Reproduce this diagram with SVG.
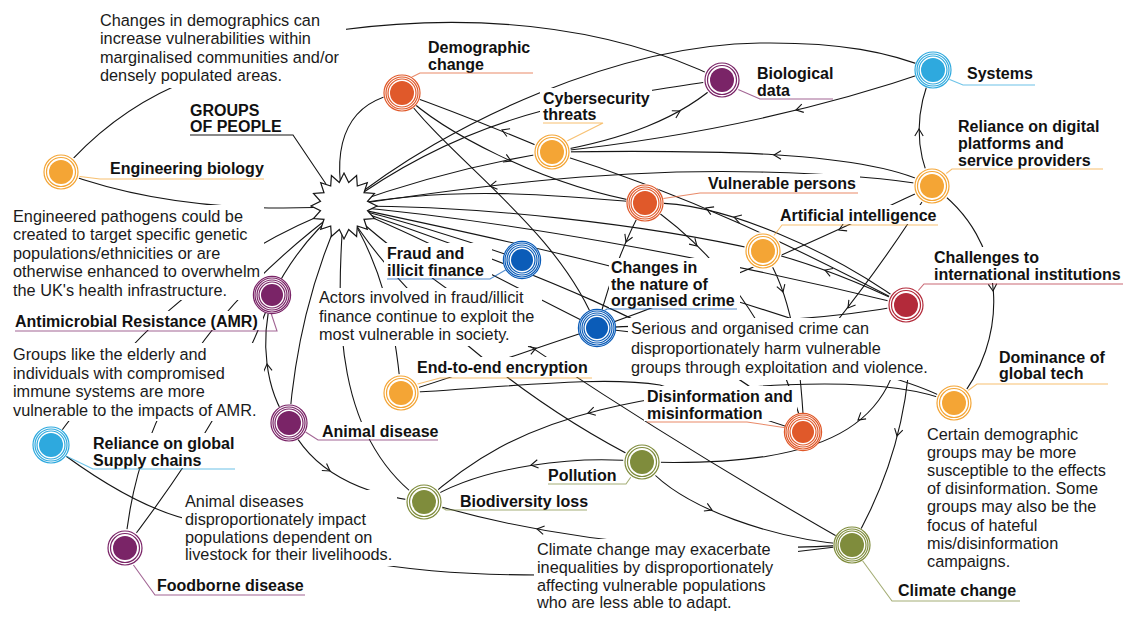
<svg xmlns="http://www.w3.org/2000/svg" xmlns:xlink="http://www.w3.org/1999/xlink" width="1141" height="632" viewBox="0 0 1141 632">
<style>
.cn path{fill:none;stroke:#151515;stroke-width:1.1}
.ah{fill:none;stroke:#151515;stroke-width:1.1}
.bg{fill:#fff}
.tx{font-family:"Liberation Sans",Arial,Helvetica,sans-serif;font-size:16.3px;fill:#1a1a1a}
.lb{font-family:"Liberation Sans",Arial,Helvetica,sans-serif;font-size:16px;font-weight:bold;fill:#111}
.halo{fill:#fff}
.dot{fill:currentColor}
.ring{fill:none;stroke:currentColor;stroke-width:1.2}
.ul{fill:none;stroke:currentColor;stroke-width:1.1;stroke-opacity:.7}
.or{color:#F4A535}
.ro{color:#E0592A}
.pu{color:#7A2467}
.lbl{color:#2EA9DE}
.db{color:#0B5CB8}
.rd{color:#B32A3A}
.ol{color:#7F8C3C}
</style>
<defs>
<path id="ah" class="ah" d="M-7,-4.2 L0,0 L-7,4.2"/>
</defs>
<rect width="1141" height="632" fill="#fff"/>

<g id="connectors" class="cn">
<path d="M61,172 C150,205 250,212 344,206"/>
<path d="M61,172 Q110,115 175,86 L340,30 C460,14 600,20 722,80"/>
<path d="M344,206 C330,140 350,100 402,93"/>
<path d="M344,206 C420,150 500,118 580,102 C640,92 690,84 722,80"/>
<path d="M344,206 C450,120 620,45 760,43 C840,42 890,52 933,70"/>
<path d="M933,70 Q760,130 552,152"/>
<path d="M932,186 C870,150 700,150 552,152"/>
<path d="M344,206 C450,190 600,168 760,172 C840,174 900,180 932,186"/>
<path d="M344,206 Q450,168 552,152"/>
<path d="M552,152 C620,140 680,120 722,80"/>
<path d="M552,152 C500,130 450,110 402,93"/>
<path d="M402,93 C440,130 540,185 645,203"/>
<path d="M402,93 C450,160 560,230 597,328"/>
<path d="M344,206 C450,185 560,195 645,203"/>
<path d="M344,206 C480,205 650,225 763,251"/>
<path d="M344,206 C500,220 700,255 906,305"/>
<path d="M906,305 C800,250 690,195 552,152"/>
<path d="M906,305 C830,250 720,200 645,203"/>
<path d="M645,203 C630,230 612,270 597,328"/>
<path d="M645,203 C700,240 770,310 804,431"/>
<path d="M763,251 C790,290 800,350 804,431"/>
<path d="M344,206 C500,260 700,330 804,431"/>
<path d="M932,186 C880,210 760,270 597,328"/>
<path d="M932,186 C905,230 870,280 830,330"/>
<path d="M906,305 Q830,268 763,251"/>
<path d="M906,305 C800,325 700,322 597,328"/>
<path d="M903,305 C905,420 840,468 643,462"/>
<path d="M910,305 C915,400 890,480 852,545"/>
<path d="M932,186 C1010,240 1010,340 955,405"/>
<path d="M932,186 C915,150 915,110 933,70"/>
<path d="M643,462 C680,510 780,540 852,545"/>
<path d="M344,206 C420,280 650,430 852,545"/>
<path d="M344,206 C400,300 520,400 643,462"/>
<path d="M344,206 C380,260 395,320 401,393"/>
<path d="M344,206 C335,320 335,440 424,502"/>
<path d="M344,206 C310,280 295,350 289,423"/>
<path d="M344,206 Q300,240 272,296"/>
<path d="M51,445 C120,350 200,260 344,206"/>
<path d="M125,548 C135,430 190,320 344,206"/>
<path d="M125,548 C200,450 240,380 272,296"/>
<path d="M289,423 C265,390 260,340 272,296"/>
<path d="M289,423 C310,470 360,495 424,502"/>
<path d="M51,445 C110,490 160,515 200,522 L365,562 C420,572 480,575 540,575 L785,553 L852,545"/>
<path d="M852,545 C780,548 620,560 424,502"/>
<path d="M643,462 C580,455 480,465 424,502"/>
<path d="M954,403 C880,370 700,385 600,410 C520,430 470,460 424,502"/>
<path d="M401,393 C460,375 530,350 597,328"/>
<path d="M401,393 C500,388 600,375 660,385 L803,432"/>
<path d="M344,206 C420,225 480,245 522,260"/>
<path d="M344,206 C430,240 520,290 597,328"/>
<path d="M344,206 C480,235 650,270 810,325"/>
<path d="M597,328 C700,340 880,360 954,403"/>
<use xlink:href="#ah" href="#ah" transform="translate(796,110) rotate(166)"/>
<use xlink:href="#ah" href="#ah" transform="translate(774,155) rotate(180)"/>
<use xlink:href="#ah" href="#ah" transform="translate(490,186) rotate(172)"/>
<use xlink:href="#ah" href="#ah" transform="translate(680,111) rotate(-29)"/>
<use xlink:href="#ah" href="#ah" transform="translate(502,130) rotate(202)"/>
<use xlink:href="#ah" href="#ah" transform="translate(511,161) rotate(24)"/>
<use xlink:href="#ah" href="#ah" transform="translate(706,208) rotate(203)"/>
<use xlink:href="#ah" href="#ah" transform="translate(734,217) rotate(197)"/>
<use xlink:href="#ah" href="#ah" transform="translate(626,242) rotate(113)"/>
<use xlink:href="#ah" href="#ah" transform="translate(697,246) rotate(44)"/>
<use xlink:href="#ah" href="#ah" transform="translate(783,292) rotate(72)"/>
<use xlink:href="#ah" href="#ah" transform="translate(839,230) rotate(155)"/>
<use xlink:href="#ah" href="#ah" transform="translate(848,308) rotate(127)"/>
<use xlink:href="#ah" href="#ah" transform="translate(825,270) rotate(200)"/>
<use xlink:href="#ah" href="#ah" transform="translate(858,420) rotate(141)"/>
<use xlink:href="#ah" href="#ah" transform="translate(897,436) rotate(104)"/>
<use xlink:href="#ah" href="#ah" transform="translate(993,291) rotate(86)"/>
<use xlink:href="#ah" href="#ah" transform="translate(919,129) rotate(-90)"/>
<use xlink:href="#ah" href="#ah" transform="translate(712,510) rotate(24)"/>
<use xlink:href="#ah" href="#ah" transform="translate(537,529) rotate(190)"/>
<use xlink:href="#ah" href="#ah" transform="translate(531,465) rotate(171)"/>
<use xlink:href="#ah" href="#ah" transform="translate(588,413) rotate(165)"/>
<use xlink:href="#ah" href="#ah" transform="translate(536,348) rotate(-20)"/>
<use xlink:href="#ah" href="#ah" transform="translate(267,364) rotate(-97)"/>
<use xlink:href="#ah" href="#ah" transform="translate(330,471) rotate(34)"/>
</g>

<g id="note-demographics">
<rect class="bg" x="96" y="9" width="250" height="79"/>
<text class="tx"><tspan x="100" y="26">Changes in demographics can</tspan><tspan x="100" y="44.4">increase vulnerabilities within</tspan><tspan x="100" y="62.8">marginalised communities and/or</tspan><tspan x="100" y="81.2">densely populated areas.</tspan></text>
</g>
<g id="note-pathogens">
<rect class="bg" x="10" y="205" width="254" height="95"/>
<text class="tx"><tspan x="13" y="222">Engineered pathogens could be</tspan><tspan x="13" y="240.4">created to target specific genetic</tspan><tspan x="13" y="258.8">populations/ethnicities or are</tspan><tspan x="13" y="277.2">otherwise enhanced to overwhelm</tspan><tspan x="13" y="295.6">the UK's health infrastructure.</tspan></text>
</g>
<g id="note-amr">
<rect class="bg" x="10" y="343" width="254" height="78"/>
<text class="tx"><tspan x="13" y="360">Groups like the elderly and</tspan><tspan x="13" y="378.6">individuals with compromised</tspan><tspan x="13" y="397.2">immune systems are more</tspan><tspan x="13" y="415.8">vulnerable to the impacts of AMR.</tspan></text>
</g>
<g id="note-fraud">
<rect class="bg" x="316" y="288" width="226" height="58"/>
<text class="tx"><tspan x="319" y="303">Actors involved in fraud/illicit</tspan><tspan x="319" y="321.5">finance continue to exploit the</tspan><tspan x="319" y="340">most vulnerable in society.</tspan></text>
</g>
<g id="note-crime">
<rect class="bg" x="628" y="318" width="310" height="62"/>
<text class="tx"><tspan x="631" y="334">Serious and organised crime can</tspan><tspan x="631" y="353.5">disproportionately harm vulnerable</tspan><tspan x="631" y="373">groups through exploitation and violence.</tspan></text>
</g>
<g id="note-disinfo">
<rect class="bg" x="924" y="424" width="164" height="150"/>
<text class="tx"><tspan x="927" y="440">Certain demographic</tspan><tspan x="927" y="458.1">groups may be more</tspan><tspan x="927" y="476.2">susceptible to the effects</tspan><tspan x="927" y="494.3">of disinformation. Some</tspan><tspan x="927" y="512.4">groups may also be the</tspan><tspan x="927" y="530.5">focus of hateful</tspan><tspan x="927" y="548.6">mis/disinformation</tspan><tspan x="927" y="566.7">campaigns.</tspan></text>
</g>
<g id="note-animal">
<rect class="bg" x="182" y="490" width="215" height="76"/>
<text class="tx"><tspan x="185" y="507">Animal diseases</tspan><tspan x="185" y="524.8">disproportionately impact</tspan><tspan x="185" y="542.6">populations dependent on</tspan><tspan x="185" y="560.4">livestock for their livelihoods.</tspan></text>
</g>
<g id="note-climate">
<rect class="bg" x="534" y="539" width="264" height="75"/>
<text class="tx"><tspan x="537" y="555">Climate change may exacerbate</tspan><tspan x="537" y="572.8">inequalities by disproportionately</tspan><tspan x="537" y="590.6">affecting vulnerable populations</tspan><tspan x="537" y="608.4">who are less able to adapt.</tspan></text>
</g>

<g id="groups-of-people">
<polygon points="344,173 348.7,182.5 356.6,175.5 357.3,186 367.3,182.7 364,192.7 374.5,193.4 367.5,201.3 377,206 367.5,210.7 374.5,218.6 364,219.3 367.3,229.3 357.3,226 356.6,236.5 348.7,229.5 344,239 339.3,229.5 331.4,236.5 330.7,226 320.7,229.3 324,219.3 313.5,218.6 320.5,210.7 311,206 320.5,201.3 313.5,193.4 324,192.7 320.7,182.7 330.7,186 331.4,175.5 339.3,182.5" fill="#fff" stroke="#151515" stroke-width="1.2"/>
<rect class="bg" x="188" y="100" width="103" height="34"/>
<text class="lb"><tspan x="190" y="116">GROUPS</tspan><tspan x="190" y="132">OF PEOPLE</tspan></text>
<polyline points="190,135 293,135 326,184" fill="none" stroke="#151515" stroke-width="1.1"/>
</g>

<g id="n-engineering-biology" class="or">
<rect class="bg" x="108" y="158" width="158" height="19"/>
<text class="lb" x="110" y="174">Engineering biology</text>
<polyline class="ul" points="76,176 100,179 264,179"/>
<circle class="halo" cx="61" cy="172" r="19"/><circle class="dot" cx="61" cy="172" r="12"/><circle class="ring" cx="61" cy="172" r="14.5"/><circle class="ring" cx="61" cy="172" r="17"/>
</g>
<g id="n-demographic-change" class="ro">
<rect class="bg" x="425" y="38" width="106" height="35"/>
<text class="lb"><tspan x="428" y="53">Demographic</tspan><tspan x="428" y="70">change</tspan></text>
<polyline class="ul" points="410,78 420,73 533,73"/>
<circle class="halo" cx="402" cy="93" r="19"/><circle class="dot" cx="402" cy="93" r="12"/><circle class="ring" cx="402" cy="93" r="14"/><circle class="ring" cx="402" cy="93" r="16"/><circle class="ring" cx="402" cy="93" r="18"/>
</g>
<g id="n-cybersecurity" class="or">
<rect class="bg" x="540" y="88" width="112" height="34"/>
<text class="lb"><tspan x="543" y="104">Cybersecurity</tspan><tspan x="543" y="120">threats</tspan></text>
<polyline class="ul" points="543,123 603,123 565,142"/>
<circle class="halo" cx="552" cy="152" r="19"/><circle class="dot" cx="552" cy="152" r="12"/><circle class="ring" cx="552" cy="152" r="14.5"/><circle class="ring" cx="552" cy="152" r="17"/>
</g>
<g id="n-biological-data" class="pu">
<rect class="bg" x="755" y="62" width="80" height="36"/>
<text class="lb"><tspan x="757" y="79">Biological</tspan><tspan x="757" y="96">data</tspan></text>
<polyline class="ul" points="737,89 760,99 833,99"/>
<circle class="halo" cx="722" cy="80" r="19"/><circle class="dot" cx="722" cy="80" r="12"/><circle class="ring" cx="722" cy="80" r="14.5"/><circle class="ring" cx="722" cy="80" r="17"/>
</g>
<g id="n-systems" class="lbl">
<rect class="bg" x="964" y="62" width="72" height="22"/>
<text class="lb" x="967" y="79">Systems</text>
<polyline class="ul" points="946,78 963,85 1035,85"/>
<circle class="halo" cx="933" cy="70" r="19"/><circle class="dot" cx="933" cy="70" r="12"/><circle class="ring" cx="933" cy="70" r="14"/><circle class="ring" cx="933" cy="70" r="16"/><circle class="ring" cx="933" cy="70" r="18"/>
</g>
<g id="n-digital-platforms" class="or">
<rect class="bg" x="955" y="116" width="150" height="52"/>
<text class="lb"><tspan x="958" y="132">Reliance on digital</tspan><tspan x="958" y="149">platforms and</tspan><tspan x="958" y="166">service providers</tspan></text>
<polyline class="ul" points="943,176 952,169 1103,169"/>
<circle class="halo" cx="932" cy="186" r="19"/><circle class="dot" cx="932" cy="186" r="12"/><circle class="ring" cx="932" cy="186" r="14.5"/><circle class="ring" cx="932" cy="186" r="17"/>
</g>
<g id="n-vulnerable-persons" class="ro">
<rect class="bg" x="706" y="174" width="154" height="18"/>
<text class="lb" x="708" y="189">Vulnerable persons</text>
<polyline class="ul" points="660,199 700,193 858,193"/>
<circle class="halo" cx="645" cy="203" r="19"/><circle class="dot" cx="645" cy="203" r="12"/><circle class="ring" cx="645" cy="203" r="14"/><circle class="ring" cx="645" cy="203" r="16"/><circle class="ring" cx="645" cy="203" r="18"/>
</g>
<g id="n-ai" class="or">
<rect class="bg" x="778" y="205" width="162" height="19"/>
<text class="lb" x="780" y="221">Artificial intelligence</text>
<polyline class="ul" points="772,238 782,225 938,225"/>
<circle class="halo" cx="763" cy="251" r="19"/><circle class="dot" cx="763" cy="251" r="12"/><circle class="ring" cx="763" cy="251" r="14.5"/><circle class="ring" cx="763" cy="251" r="17"/>
</g>
<g id="n-organised-crime" class="db">
<rect class="bg" x="609" y="258" width="131" height="50"/>
<text class="lb"><tspan x="611" y="273">Changes in</tspan><tspan x="611" y="290">the nature of</tspan><tspan x="611" y="306">organised crime</tspan></text>
<polyline class="ul" points="602,312 607,309 737,309"/>
<circle class="halo" cx="597" cy="328" r="19"/><circle class="dot" cx="597" cy="328" r="11"/><circle class="ring" cx="597" cy="328" r="13"/><circle class="ring" cx="597" cy="328" r="15"/><circle class="ring" cx="597" cy="328" r="17"/><circle class="ring" cx="597" cy="328" r="18.6"/>
</g>
<g id="n-fraud" class="db">
<rect class="bg" x="384" y="243" width="108" height="35"/>
<text class="lb"><tspan x="387" y="259">Fraud and</tspan><tspan x="387" y="276">illicit finance</tspan></text>
<polyline class="ul" points="387,279 490,279 509,268"/>
<circle class="halo" cx="522" cy="260" r="19"/><circle class="dot" cx="522" cy="260" r="11"/><circle class="ring" cx="522" cy="260" r="13"/><circle class="ring" cx="522" cy="260" r="15"/><circle class="ring" cx="522" cy="260" r="17"/><circle class="ring" cx="522" cy="260" r="18.6"/>
</g>
<g id="n-international-institutions" class="rd">
<rect class="bg" x="932" y="247" width="192" height="36"/>
<text class="lb"><tspan x="934" y="263">Challenges to</tspan><tspan x="934" y="280">international institutions</tspan></text>
<polyline class="ul" points="917,292 924,284 1123,284"/>
<circle class="halo" cx="906" cy="305" r="19"/><circle class="dot" cx="906" cy="305" r="12"/><circle class="ring" cx="906" cy="305" r="14.5"/><circle class="ring" cx="906" cy="305" r="17"/>
</g>
<g id="n-encryption" class="or">
<rect class="bg" x="415" y="357" width="179" height="20"/>
<text class="lb" x="417" y="373">End-to-end encryption</text>
<polyline class="ul" points="414,385 440,378 592,378"/>
<circle class="halo" cx="401" cy="393" r="19"/><circle class="dot" cx="401" cy="393" r="12"/><circle class="ring" cx="401" cy="393" r="14.5"/><circle class="ring" cx="401" cy="393" r="17"/>
</g>
<g id="n-disinformation" class="ro">
<rect class="bg" x="644" y="386" width="153" height="35"/>
<text class="lb"><tspan x="647" y="402">Disinformation and</tspan><tspan x="647" y="419">misinformation</tspan></text>
<polyline class="ul" points="647,422 747,422 787,428"/>
<circle class="halo" cx="803" cy="432" r="19"/><circle class="dot" cx="803" cy="432" r="11"/><circle class="ring" cx="803" cy="432" r="13"/><circle class="ring" cx="803" cy="432" r="15"/><circle class="ring" cx="803" cy="432" r="17"/><circle class="ring" cx="803" cy="432" r="18.6"/>
</g>
<g id="n-global-tech" class="or">
<rect class="bg" x="996" y="347" width="114" height="36"/>
<text class="lb"><tspan x="999" y="363">Dominance of</tspan><tspan x="999" y="379">global tech</tspan></text>
<polyline class="ul" points="966,392 977,384 1108,384"/>
<circle class="halo" cx="954" cy="403" r="19"/><circle class="dot" cx="954" cy="403" r="12"/><circle class="ring" cx="954" cy="403" r="14.5"/><circle class="ring" cx="954" cy="403" r="17"/>
</g>
<g id="n-amr" class="pu">
<rect class="bg" x="13" y="311" width="250" height="19"/>
<text class="lb" x="15" y="327">Antimicrobial Resistance (AMR)</text>
<polyline class="ul" points="15,331 277,331 271,313"/>
<circle class="halo" cx="272" cy="295" r="19"/><circle class="dot" cx="272" cy="295" r="11"/><circle class="ring" cx="272" cy="295" r="13"/><circle class="ring" cx="272" cy="295" r="15"/><circle class="ring" cx="272" cy="295" r="17"/><circle class="ring" cx="272" cy="295" r="18.6"/>
</g>
<g id="n-animal-disease" class="pu">
<rect class="bg" x="320" y="422" width="120" height="17"/>
<text class="lb" x="322" y="437">Animal disease</text>
<polyline class="ul" points="304,431 318,440 438,440"/>
<circle class="halo" cx="289" cy="423" r="19"/><circle class="dot" cx="289" cy="423" r="12"/><circle class="ring" cx="289" cy="423" r="14"/><circle class="ring" cx="289" cy="423" r="16"/><circle class="ring" cx="289" cy="423" r="18"/>
</g>
<g id="n-supply-chains" class="lbl">
<rect class="bg" x="90" y="433" width="147" height="35"/>
<text class="lb"><tspan x="93" y="449">Reliance on global</tspan><tspan x="93" y="466">Supply chains</tspan></text>
<polyline class="ul" points="66,456 93,469 235,469"/>
<circle class="halo" cx="51" cy="445" r="19"/><circle class="dot" cx="51" cy="445" r="12"/><circle class="ring" cx="51" cy="445" r="14"/><circle class="ring" cx="51" cy="445" r="16"/><circle class="ring" cx="51" cy="445" r="18"/>
</g>
<g id="n-foodborne" class="pu">
<rect class="bg" x="155" y="576" width="152" height="18"/>
<text class="lb" x="157" y="591">Foodborne disease</text>
<polyline class="ul" points="132,563 155,595 305,595"/>
<circle class="halo" cx="125" cy="548" r="19"/><circle class="dot" cx="125" cy="548" r="12"/><circle class="ring" cx="125" cy="548" r="14.5"/><circle class="ring" cx="125" cy="548" r="17"/>
</g>
<g id="n-biodiversity" class="ol">
<rect class="bg" x="458" y="492" width="132" height="18"/>
<text class="lb" x="460" y="507">Biodiversity loss</text>
<polyline class="ul" points="439,506 446,510 587,510"/>
<circle class="halo" cx="424" cy="502" r="19"/><circle class="dot" cx="424" cy="502" r="12"/><circle class="ring" cx="424" cy="502" r="14.5"/><circle class="ring" cx="424" cy="502" r="17"/>
</g>
<g id="n-pollution" class="ol">
<rect class="bg" x="546" y="466" width="82" height="17"/>
<text class="lb" x="548" y="481">Pollution</text>
<polyline class="ul" points="548,484 626,484 633,474"/>
<circle class="halo" cx="642" cy="462" r="19"/><circle class="dot" cx="642" cy="462" r="12"/><circle class="ring" cx="642" cy="462" r="14.5"/><circle class="ring" cx="642" cy="462" r="17"/>
</g>
<g id="n-climate-change" class="ol">
<rect class="bg" x="896" y="581" width="126" height="19"/>
<text class="lb" x="898" y="596">Climate change</text>
<polyline class="ul" points="862,560 892,601 1020,601"/>
<circle class="halo" cx="852" cy="545" r="19"/><circle class="dot" cx="852" cy="545" r="12"/><circle class="ring" cx="852" cy="545" r="14"/><circle class="ring" cx="852" cy="545" r="16"/><circle class="ring" cx="852" cy="545" r="18"/>
</g>
</svg>
